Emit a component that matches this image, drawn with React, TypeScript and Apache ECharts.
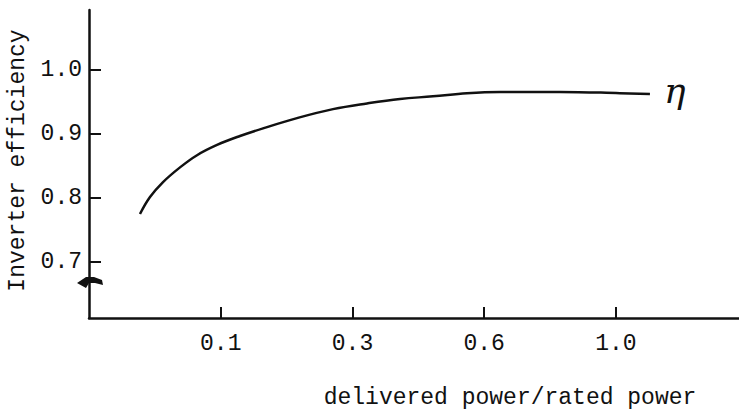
import React, { useEffect, useRef } from "react";
import * as echarts from "echarts";

// x positions on the (non-linear) delivered-power axis: tick k sits at position k
const xTickPositions = [1, 2, 3, 4];
const xTickLabels = ["0.1", "0.3", "0.6", "1.0"];
const yTickValues = [0.7, 0.8, 0.9, 1.0];

// efficiency curve (x in axis-position units)
const curveX = [0.387, 0.463, 0.562, 0.691, 0.82, 0.972, 1.146, 1.321, 1.579, 1.852, 2.11, 2.361, 2.611, 2.869, 3.12, 3.575, 4.03, 4.258];
const curveEff = [0.775, 0.8016, 0.825, 0.848, 0.867, 0.883, 0.897, 0.909, 0.925, 0.939, 0.948, 0.955, 0.959, 0.964, 0.966, 0.966, 0.964, 0.9625];

const FONT = "'Liberation Mono', 'DejaVu Sans Mono', monospace";

export default function App() {
  const ref = useRef<HTMLDivElement>(null);
  useEffect(() => {
    if (!ref.current) return;
    const chart = echarts.init(ref.current, null, { renderer: "svg" });
    const data = curveX.map((x, i) => [x, curveEff[i]]);
    chart.setOption({
      animation: false,
      backgroundColor: "#ffffff",
      grid: { left: 89, top: 10, right: 0, bottom: 93, containLabel: false, outerBoundsMode: "none" },
      xAxis: {
        type: "value",
        min: 0,
        max: 4.934,
        name: "delivered power/rated power",
        nameLocation: "middle",
        nameGap: 68,
        nameTextStyle: { color: "#111", fontFamily: FONT, fontSize: 23, padding: [0, 0, 0, 192] },
        axisLine: { show: true, onZero: false, lineStyle: { color: "#111", width: 2.5 } },
        axisTick: { show: true, inside: true, length: 11, customValues: xTickPositions, lineStyle: { color: "#111", width: 2 } },
        axisLabel: {
          show: true,
          customValues: xTickPositions,
          formatter: (v: number) => {
            const i = xTickPositions.indexOf(Math.round(v));
            return i >= 0 ? xTickLabels[i] : "";
          },
          margin: 14,
          color: "#111",
          fontFamily: FONT,
          fontSize: 23,
        },
        splitLine: { show: false },
      },
      yAxis: {
        type: "value",
        min: 0.6125,
        max: 1.094,
        name: "Inverter efficiency",
        nameLocation: "middle",
        nameGap: 56,
        nameTextStyle: { color: "#111", fontFamily: FONT, fontSize: 23, padding: [0, 0, 0, 7] },
        axisLine: { show: true, onZero: false, lineStyle: { color: "#111", width: 2.5 } },
        axisTick: { show: true, inside: true, length: 12, customValues: yTickValues, lineStyle: { color: "#111", width: 2 } },
        axisLabel: {
          show: true,
          customValues: yTickValues,
          formatter: (v: number) => v.toFixed(1),
          margin: 7,
          color: "#111",
          fontFamily: FONT,
          fontSize: 23,
        },
        splitLine: { show: false },
      },
      graphic: [
        {
          type: "polygon",
          shape: { points: [[77, 283], [86, 277], [94, 277], [102, 280], [103, 285], [95, 283], [89, 283], [86, 288]] },
          style: { fill: "#111" },
        },
      ],
      series: [
        {
          type: "line",
          data,
          smooth: 0.4,
          showSymbol: false,
          lineStyle: { color: "#111", width: 2.5 },
          endLabel: {
            show: true,
            formatter: () => "η",
            fontSize: 36,
            fontFamily: "'DejaVu Serif', serif",
            fontStyle: "italic",
            color: "#111",
            distance: 14,
            offset: [0, -4],
          },
        },
      ],
    });
    return () => chart.dispose();
  }, []);
  return (
    <div
      ref={ref}
      style={{ position: "fixed", left: 0, top: 0, width: 739, height: 411, background: "#fff" }}
    />
  );
}
